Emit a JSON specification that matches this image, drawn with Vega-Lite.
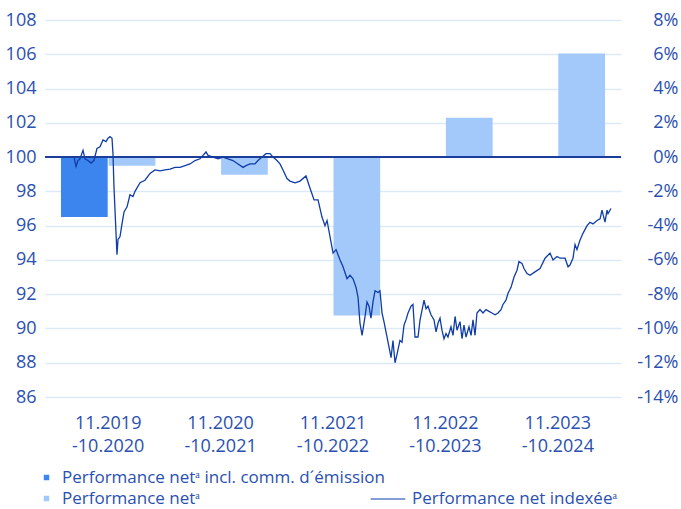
{
  "$schema": "https://vega.github.io/schema/vega-lite/v6.json",
  "width": 576,
  "height": 377,
  "autosize": {"type": "none"},
  "padding": {"left": 45, "top": 20, "right": 60, "bottom": 112},
  "background": "white",
  "config": {
    "view": {"stroke": null},
    "font": "Open Sans",
    "axis": {"labelFont": "Open Sans", "labelFontSize": 18, "labelColor": "#2a50b0", "ticks": false, "domain": false, "title": null, "labelOverlap": false, "labelBound": false},
    "legend": {"labelFont": "Open Sans", "labelFontSize": 17, "labelColor": "#2a50b0", "title": null, "labelLimit": 600}
  },
  "layer": [
    {
      "data": {
        "values": [
          {"period": "11.2019|-10.2020", "series": "Performance netᵃ incl. comm. d´émission", "pct": -3.5},
          {"period": "11.2019|-10.2020", "series": "Performance netᵃ", "pct": -0.5},
          {"period": "11.2020|-10.2021", "series": "Performance netᵃ", "pct": -1.03},
          {"period": "11.2021|-10.2022", "series": "Performance netᵃ", "pct": -9.25},
          {"period": "11.2022|-10.2023", "series": "Performance netᵃ", "pct": 2.29},
          {"period": "11.2023|-10.2024", "series": "Performance netᵃ", "pct": 6.05}
        ]
      },
      "mark": {"type": "bar"},
      "encoding": {
        "x": {
          "field": "period", "type": "nominal", "sort": null,
          "scale": {"paddingInner": 0.16, "paddingOuter": 0.142},
          "axis": {"orient": "bottom", "labelAngle": 0, "labelExpr": "split(datum.value, '|')", "labelLineHeight": 23, "labelPadding": 17, "labelBaseline": "top"}
        },
        "xOffset": {
          "field": "series", "type": "nominal",
          "scale": {"domain": ["Performance netᵃ incl. comm. d´émission", "Performance netᵃ"], "paddingInner": 0.02}
        },
        "y": {
          "field": "pct", "type": "quantitative",
          "scale": {"domain": [-14, 8], "nice": false},
          "axis": {"orient": "right", "values": [-14, -12, -10, -8, -6, -4, -2, 0, 2, 4, 6, 8], "labelExpr": "datum.value + '%'", "labelAlign": "right", "labelPadding": 57, "grid": false}
        },
        "color": {
          "field": "series", "type": "nominal",
          "scale": {"domain": ["Performance netᵃ incl. comm. d´émission", "Performance netᵃ"], "range": ["#3d85ee", "#a3c9fa"]},
          "legend": {"orient": "none", "legendX": -7, "legendY": 449, "direction": "vertical", "symbolType": "square", "symbolSize": 30, "labelOffset": 7, "rowPadding": 3}
        }
      }
    },
    {
      "data": {
        "values": [
          {"t": 2019.833, "v": 100.0}, {"t": 2019.852, "v": 99.45}, {"t": 2019.870, "v": 99.8}, {"t": 2019.889, "v": 99.9},
          {"t": 2019.917, "v": 100.4}, {"t": 2019.935, "v": 99.9}, {"t": 2019.963, "v": 99.8}, {"t": 2019.991, "v": 99.65},
          {"t": 2020.019, "v": 99.8}, {"t": 2020.047, "v": 100.5}, {"t": 2020.075, "v": 100.6}, {"t": 2020.103, "v": 101.0},
          {"t": 2020.131, "v": 100.9}, {"t": 2020.150, "v": 101.1}, {"t": 2020.168, "v": 101.2}, {"t": 2020.187, "v": 101.1},
          {"t": 2020.196, "v": 100.2}, {"t": 2020.205, "v": 98.3}, {"t": 2020.224, "v": 95.6}, {"t": 2020.233, "v": 94.3},
          {"t": 2020.243, "v": 95.2}, {"t": 2020.261, "v": 95.35}, {"t": 2020.280, "v": 96.1}, {"t": 2020.299, "v": 96.8},
          {"t": 2020.327, "v": 97.1}, {"t": 2020.354, "v": 97.8}, {"t": 2020.382, "v": 97.7}, {"t": 2020.401, "v": 98.0},
          {"t": 2020.448, "v": 98.5}, {"t": 2020.494, "v": 98.65}, {"t": 2020.541, "v": 99.05}, {"t": 2020.587, "v": 99.25},
          {"t": 2020.634, "v": 99.2}, {"t": 2020.680, "v": 99.25}, {"t": 2020.727, "v": 99.3}, {"t": 2020.773, "v": 99.4},
          {"t": 2020.820, "v": 99.4}, {"t": 2020.867, "v": 99.5}, {"t": 2020.913, "v": 99.6}, {"t": 2020.960, "v": 99.8},
          {"t": 2021.006, "v": 99.9}, {"t": 2021.034, "v": 100.1}, {"t": 2021.062, "v": 100.3}, {"t": 2021.081, "v": 100.1},
          {"t": 2021.127, "v": 100.0}, {"t": 2021.174, "v": 99.9}, {"t": 2021.220, "v": 100.0}, {"t": 2021.267, "v": 99.9},
          {"t": 2021.313, "v": 99.8}, {"t": 2021.360, "v": 99.6}, {"t": 2021.407, "v": 99.4}, {"t": 2021.435, "v": 99.5},
          {"t": 2021.472, "v": 99.6}, {"t": 2021.518, "v": 99.6}, {"t": 2021.546, "v": 99.8}, {"t": 2021.584, "v": 100.0},
          {"t": 2021.621, "v": 100.2}, {"t": 2021.658, "v": 100.2}, {"t": 2021.686, "v": 100.0}, {"t": 2021.723, "v": 99.8},
          {"t": 2021.751, "v": 99.6}, {"t": 2021.779, "v": 99.25}, {"t": 2021.816, "v": 98.75}, {"t": 2021.844, "v": 98.6},
          {"t": 2021.891, "v": 98.5}, {"t": 2021.937, "v": 98.6}, {"t": 2021.993, "v": 98.9}, {"t": 2022.030, "v": 98.2},
          {"t": 2022.068, "v": 97.5}, {"t": 2022.105, "v": 97.5}, {"t": 2022.142, "v": 96.5}, {"t": 2022.170, "v": 96.0},
          {"t": 2022.189, "v": 96.3}, {"t": 2022.217, "v": 95.35}, {"t": 2022.245, "v": 94.4}, {"t": 2022.273, "v": 94.6},
          {"t": 2022.310, "v": 94.0}, {"t": 2022.338, "v": 93.6}, {"t": 2022.375, "v": 92.9}, {"t": 2022.403, "v": 93.1},
          {"t": 2022.431, "v": 92.9}, {"t": 2022.459, "v": 92.4}, {"t": 2022.477, "v": 91.85}, {"t": 2022.496, "v": 90.3},
          {"t": 2022.515, "v": 89.6}, {"t": 2022.543, "v": 90.7}, {"t": 2022.561, "v": 91.55}, {"t": 2022.580, "v": 91.3},
          {"t": 2022.598, "v": 90.6}, {"t": 2022.617, "v": 91.55}, {"t": 2022.636, "v": 92.2}, {"t": 2022.664, "v": 92.1},
          {"t": 2022.682, "v": 92.2}, {"t": 2022.701, "v": 90.9}, {"t": 2022.719, "v": 90.4}, {"t": 2022.738, "v": 89.8},
          {"t": 2022.757, "v": 89.2}, {"t": 2022.785, "v": 88.3}, {"t": 2022.803, "v": 89.3}, {"t": 2022.822, "v": 88.0},
          {"t": 2022.841, "v": 88.5}, {"t": 2022.868, "v": 89.3}, {"t": 2022.887, "v": 89.2}, {"t": 2022.906, "v": 90.2},
          {"t": 2022.924, "v": 90.5}, {"t": 2022.943, "v": 90.9}, {"t": 2022.971, "v": 91.3}, {"t": 2022.989, "v": 91.4},
          {"t": 2023.008, "v": 89.5}, {"t": 2023.036, "v": 89.5}, {"t": 2023.055, "v": 90.5}, {"t": 2023.073, "v": 91.05},
          {"t": 2023.092, "v": 91.65}, {"t": 2023.111, "v": 91.15}, {"t": 2023.129, "v": 91.3}, {"t": 2023.157, "v": 90.8},
          {"t": 2023.185, "v": 90.5}, {"t": 2023.204, "v": 89.8}, {"t": 2023.222, "v": 90.3}, {"t": 2023.241, "v": 90.6},
          {"t": 2023.259, "v": 89.9}, {"t": 2023.278, "v": 89.4}, {"t": 2023.297, "v": 89.7}, {"t": 2023.315, "v": 89.5},
          {"t": 2023.343, "v": 90.1}, {"t": 2023.362, "v": 89.6}, {"t": 2023.381, "v": 90.7}, {"t": 2023.399, "v": 89.9},
          {"t": 2023.427, "v": 90.4}, {"t": 2023.446, "v": 89.4}, {"t": 2023.464, "v": 90.2}, {"t": 2023.483, "v": 89.5},
          {"t": 2023.511, "v": 90.1}, {"t": 2023.530, "v": 89.6}, {"t": 2023.548, "v": 90.5}, {"t": 2023.567, "v": 89.6},
          {"t": 2023.585, "v": 90.9}, {"t": 2023.613, "v": 91.1}, {"t": 2023.641, "v": 90.9}, {"t": 2023.669, "v": 91.1},
          {"t": 2023.697, "v": 91.0}, {"t": 2023.725, "v": 90.9}, {"t": 2023.753, "v": 90.8}, {"t": 2023.781, "v": 90.9},
          {"t": 2023.809, "v": 91.1}, {"t": 2023.827, "v": 91.4}, {"t": 2023.855, "v": 91.65}, {"t": 2023.874, "v": 92.05},
          {"t": 2023.902, "v": 92.4}, {"t": 2023.930, "v": 93.0}, {"t": 2023.958, "v": 93.4}, {"t": 2023.976, "v": 93.9},
          {"t": 2024.004, "v": 93.8}, {"t": 2024.023, "v": 93.5}, {"t": 2024.051, "v": 93.2}, {"t": 2024.079, "v": 93.1},
          {"t": 2024.125, "v": 93.3}, {"t": 2024.172, "v": 93.5}, {"t": 2024.219, "v": 94.1}, {"t": 2024.265, "v": 94.4},
          {"t": 2024.293, "v": 94.0}, {"t": 2024.330, "v": 94.2}, {"t": 2024.358, "v": 94.1}, {"t": 2024.405, "v": 94.1},
          {"t": 2024.433, "v": 93.6}, {"t": 2024.451, "v": 93.7}, {"t": 2024.479, "v": 94.1}, {"t": 2024.498, "v": 94.9},
          {"t": 2024.516, "v": 94.6}, {"t": 2024.544, "v": 95.15}, {"t": 2024.572, "v": 95.55}, {"t": 2024.610, "v": 96.0},
          {"t": 2024.637, "v": 96.2}, {"t": 2024.665, "v": 96.1}, {"t": 2024.703, "v": 96.3}, {"t": 2024.731, "v": 96.4},
          {"t": 2024.749, "v": 96.9}, {"t": 2024.777, "v": 96.2}, {"t": 2024.796, "v": 96.9}, {"t": 2024.805, "v": 96.7},
          {"t": 2024.833, "v": 97.0}
        ]
      },
      "layer": [
        {
          "mark": {"type": "rule", "color": "#1d3f9a", "strokeWidth": 1.2},
          "encoding": {
            "y": {
              "datum": 100, "type": "quantitative",
              "scale": {"domain": [86, 108], "nice": false, "zero": false},
              "axis": {"orient": "left", "values": [86, 88, 90, 92, 94, 96, 98, 100, 102, 104, 106, 108], "grid": true, "gridColor": "#dde9f9", "gridWidth": 1.5, "labelPadding": 9, "tickCount": 12}
            }
          }
        },
        {
          "mark": {"type": "line", "strokeWidth": 1.3, "interpolate": "linear"},
          "encoding": {
            "x": {"field": "t", "type": "quantitative", "scale": {"domain": [2019.563, 2024.926], "nice": false, "zero": false}, "axis": null},
            "y": {
              "field": "v", "type": "quantitative",
              "scale": {"domain": [86, 108], "nice": false, "zero": false},
              "axis": {"orient": "left", "values": [86, 88, 90, 92, 94, 96, 98, 100, 102, 104, 106, 108], "grid": true, "gridColor": "#dde9f9", "gridWidth": 1.5, "labelPadding": 9, "tickCount": 12}
            },
            "stroke": {
              "datum": "Performance net indexéeᵃ",
              "scale": {"range": ["#0f3ca8"]},
              "legend": {"orient": "none", "legendX": 325, "legendY": 461, "symbolType": "stroke", "symbolSize": 1200, "symbolStrokeWidth": 1.2, "labelOffset": 6}
            }
          }
        }
      ]
    }
  ],
  "resolve": {"scale": {"x": "independent", "y": "independent", "color": "independent", "stroke": "independent"}}
}
